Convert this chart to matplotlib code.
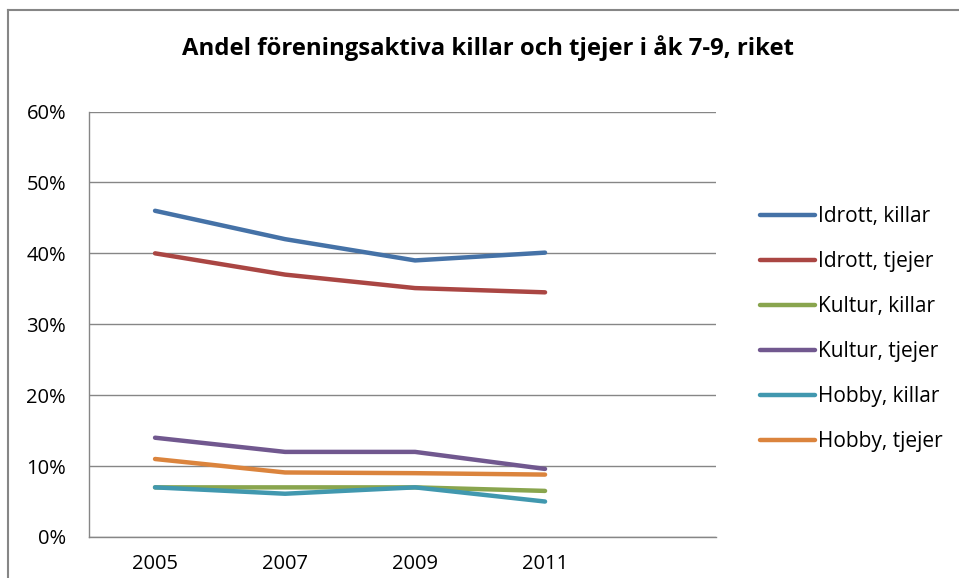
import matplotlib.pyplot as plt
from matplotlib.lines import Line2D
from matplotlib.ticker import FuncFormatter

years = ['2005', '2007', '2009', '2011']
idrott_killar = [46, 42, 39, 40.1]
idrott_tjejer = [40, 37, 35.1, 34.5]
kultur_killar = [7, 7, 7, 6.5]
kultur_tjejer = [14, 12, 12, 9.6]
hobby_killar = [7, 6.1, 7, 5]
hobby_tjejer = [11, 9.1, 9, 8.8]

labels = ['Idrott, killar', 'Idrott, tjejer', 'Kultur, killar',
          'Kultur, tjejer', 'Hobby, killar', 'Hobby, tjejer']
colors = ['#4572A7', '#AA4643', '#89A54E', '#71588F', '#4198AF', '#DB843D']
series = [idrott_killar, idrott_tjejer, kultur_killar,
          kultur_tjejer, hobby_killar, hobby_tjejer]

plt.rcParams['font.family'] = ['Open Sans', 'DejaVu Sans']

W, H = 959, 578
fig = plt.figure(figsize=(W / 100, H / 100), dpi=100)

# outer chart border (only top and left visible in the crop)
fig.add_artist(Line2D([8 / W, 8 / W], [0, 1 - 10 / H], transform=fig.transFigure,
                      color='#868686', lw=1.5))
fig.add_artist(Line2D([8 / W, 1], [1 - 10 / H, 1 - 10 / H], transform=fig.transFigure,
                      color='#868686', lw=1.5))

left, right, top, bottom = 89, 716, 111.5, 537
ax = fig.add_axes([left / W, 1 - bottom / H, (right - left) / W, (bottom - top) / H])

x = list(range(len(years)))
for vals, lab, col in zip(series, labels, colors):
    ax.plot(x, vals, color=col, lw=3.2, label=lab, solid_capstyle='round',
            solid_joinstyle='round', zorder=3)

ax.set_ylim(0, 60)
ax.set_xlim(-0.508, 4.315)
ax.set_yticks(range(0, 61, 10))
ax.yaxis.set_major_formatter(FuncFormatter(lambda v, p: f'{int(v)}%'))
ax.set_xticks(x)
ax.set_xticklabels(years)
ax.grid(axis='y', color='#868686', lw=1)
ax.set_axisbelow(True)
for s in ['top', 'right']:
    ax.spines[s].set_visible(False)
for s in ['left', 'bottom']:
    ax.spines[s].set_color('#868686')
    ax.spines[s].set_linewidth(1)
ax.tick_params(axis='y', length=0, pad=16.5, labelsize=14.5)
ax.tick_params(axis='x', length=0, pad=12, labelsize=14.5)

fig.text(488 / W, 1 - 48 / H, 'Andel föreningsaktiva killar och tjejer i åk 7-9, riket',
         ha='center', va='center', fontsize=17.2, fontweight='bold')

ax.legend(loc='upper left', bbox_to_anchor=(752 / W, 1 - 198 / H),
          bbox_transform=fig.transFigure, frameon=False, fontsize=15,
          handlelength=2.64, handletextpad=0.12, labelspacing=1.15,
          borderaxespad=0)

fig.savefig('out.png', dpi=100)
